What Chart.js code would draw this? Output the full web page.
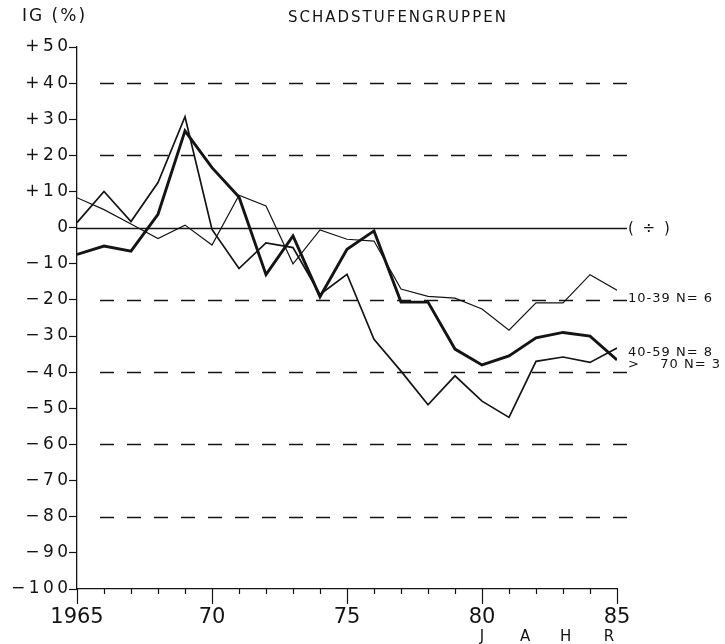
<!DOCTYPE html>
<html>
<head>
<meta charset="utf-8">
<title>Schadstufengruppen</title>
<script src="https://cdn.jsdelivr.net/npm/chart.js@4.4.1/dist/chart.umd.min.js"></script>
<style>
    html, body { margin: 0; padding: 0; background: #fff; }
    canvas { display: block; }
</style>
</head>
<body>
<canvas id="igChart" width="725" height="644"></canvas>
<script>
// values (IG in %)
const years = [1965, 1966, 1967, 1968, 1969, 1970, 1971, 1972, 1973, 1974, 1975,
               1976, 1977, 1978, 1979, 1980, 1981, 1982, 1983, 1984, 1985];
const group1039 = [8.3, 5, 1, -3, 0.7, -4.8, 9, 6, -10, -0.6, -3.2,
                   -3.7, -17, -19, -19.5, -22.5, -28.4, -20.8, -20.8, -13, -17.3];
const group4059 = [-7.4, -5.1, -6.5, 3.7, 26.8, 16.6, 8.5, -13, -2.3, -19.1, -6,
                   -0.9, -20.6, -20.6, -33.6, -38, -35.5, -30.5, -29, -30, -36.6];
const group70 = [1.4, 10, 1.7, 12.5, 30.7, -0.5, -11.3, -4.2, -5.5, -18.5, -12.9,
                 -30.9, -39.7, -49, -41, -48, -52.5, -37, -35.8, -37.3, -33.3];
const xTickLabels = { 1965: '1965', 1970: '70', 1975: '75', 1980: '80', 1985: '85' };
const dashedLevels = [40, 20, -20, -40, -60, -80];
const axisWord = ['J', 'A', 'H', 'R'];
const axisWordYears = [1980, 1981.6, 1983.1, 1984.7];

const FONT = "'DejaVu Sans', sans-serif";
const INK = '#141414';
const THIN = '\u2009';

function toPoints(values) {
    return years.map((year, i) => ({ x: year, y: values[i] }));
}

// spread the y tick label like the plotter lettering
function yLabel(value) {
    let text = value > 0 ? '+' + value : (value < 0 ? '\u2212' + Math.abs(value) : '0');
    return text.split('').join(THIN);
}

const referenceLines = {
    id: 'referenceLines',
    beforeDatasetsDraw(chart) {
        const ctx = chart.ctx;
        const xs = chart.scales.x;
        const ys = chart.scales.y;
        const right = xs.right + 10;
        ctx.save();
        ctx.strokeStyle = INK;
        ctx.lineWidth = 1.3;
        ctx.setLineDash([14, 13]);
        dashedLevels.forEach(level => {
            const y = Math.round(ys.getPixelForValue(level)) + 0.5;
            ctx.beginPath();
            ctx.moveTo(xs.left + 23, y);
            ctx.lineTo(right, y);
            ctx.stroke();
        });
        ctx.setLineDash([]);
        const y0 = Math.round(ys.getPixelForValue(0)) + 0.5;
        ctx.beginPath();
        ctx.moveTo(xs.left, y0);
        ctx.lineTo(right, y0);
        ctx.stroke();

        // year ticks under the time axis
        ctx.lineWidth = 1.2;
        years.forEach(year => {
            const x = Math.round(xs.getPixelForValue(year)) + 0.5;
            const len = year % 5 === 0 ? 15 : 5;
            ctx.beginPath();
            ctx.moveTo(x, ys.bottom);
            ctx.lineTo(x, ys.bottom + len);
            ctx.stroke();
        });
        ctx.restore();
    },
    afterDraw(chart) {
        const ctx = chart.ctx;
        const xs = chart.scales.x;
        const ys = chart.scales.y;
        ctx.save();
        ctx.fillStyle = INK;
        ctx.textBaseline = 'middle';
        ctx.textAlign = 'left';
        ctx.letterSpacing = '2px';
        ctx.font = '17px ' + FONT;
        ctx.fillText('IG (%)', 22, 17);
        ctx.font = '15px ' + FONT;
        ctx.fillText('SCHADSTUFENGRUPPEN', 288, 18);

        const labelX = xs.right + 11;
        ctx.font = '15px ' + FONT;
        ctx.fillText('( ÷ )', labelX, ys.getPixelForValue(0) + 1);
        ctx.font = '13px ' + FONT;
        ctx.letterSpacing = '1px';
        ctx.fillText('10-39 N= 6', labelX, ys.getPixelForValue(-19.5));
        ctx.fillText('40-59 N= 8', labelX, ys.getPixelForValue(-34.5));
        ctx.fillText('>', labelX, ys.getPixelForValue(-38));
        ctx.textAlign = 'right';
        ctx.fillText('70 N= 3', 721, ys.getPixelForValue(-38));

        ctx.textAlign = 'center';
        ctx.font = '15px ' + FONT;
        ctx.letterSpacing = '0px';
        axisWord.forEach((letter, i) => {
            ctx.fillText(letter, xs.getPixelForValue(axisWordYears[i]), 637);
        });
        ctx.restore();
    }
};

function renderChart() {
    const ctx = document.getElementById('igChart').getContext('2d');
    const line = (label, values, width) => ({
        label: label,
        data: toPoints(values),
        borderColor: INK,
        borderWidth: width,
        pointRadius: 0,
        tension: 0,
        fill: false
    });

    new Chart(ctx, {
        type: 'line',
        data: {
            datasets: [
                line('10-39 N=6', group1039, 1.2),
                line('>70 N=3', group70, 1.7),
                line('40-59 N=8', group4059, 2.9)
            ]
        },
        options: {
            responsive: false,
            animation: false,
            devicePixelRatio: 1,
            layout: { padding: { top: 47, right: 108, left: 0, bottom: 0 } },
            plugins: {
                legend: { display: false },
                tooltip: { enabled: false }
            },
            scales: {
                x: {
                    type: 'linear',
                    min: 1965,
                    max: 1985,
                    border: { color: INK, width: 1.3 },
                    grid: { display: false, drawTicks: false },
                    afterFit: scale => { scale.height = 55; },
                    ticks: {
                        stepSize: 5,
                        autoSkip: false,
                        maxRotation: 0,
                        padding: 16,
                        color: INK,
                        font: { family: FONT, size: 21 },
                        callback: value => xTickLabels[value] || ''
                    }
                },
                y: {
                    min: -100,
                    max: 50,
                    border: { color: INK, width: 1.3 },
                    grid: {
                        drawOnChartArea: false,
                        color: INK,
                        tickLength: 8,
                        tickWidth: 1.2
                    },
                    afterFit: scale => { scale.width = 77; },
                    ticks: {
                        stepSize: 10,
                        padding: 1,
                        color: INK,
                        font: { family: FONT, size: 17 },
                        callback: yLabel
                    }
                }
            }
        },
        plugins: [referenceLines]
    });
}

document.addEventListener('DOMContentLoaded', renderChart);
</script>
</body>
</html>
